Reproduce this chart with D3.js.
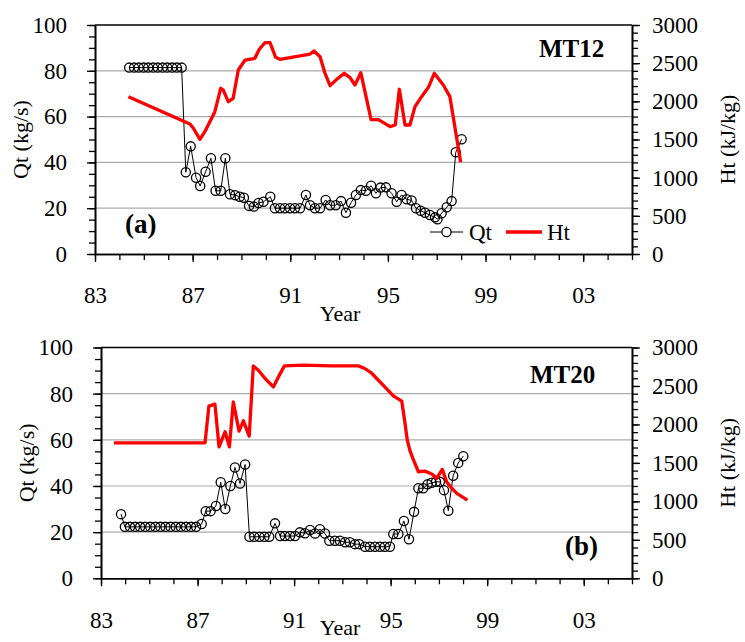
<!DOCTYPE html>
<html>
<head>
	<script src="https://cdn.jsdelivr.net/npm/d3@7"></script>
	<style>
		html, body {
			padding: 0;
			margin: 0;
			background: white;
		}
		svg text {
			font-family: "Liberation Serif", "Times New Roman", serif;
			fill: black;
		}
	</style>
</head>
<body>
<div id="chart"></div>
<script>
	// ---- panel (a) MT12 ----
	var yearsQtA = [1984.40, 1984.60, 1984.79, 1984.99, 1985.18, 1985.38, 1985.57, 1985.77, 1985.96, 1986.16, 1986.35, 1986.55,
		1986.72, 1986.92, 1987.14, 1987.31, 1987.53, 1987.75, 1987.94, 1988.15, 1988.34, 1988.53, 1988.74, 1988.93,
		1989.10, 1989.31, 1989.51, 1989.70, 1989.90, 1990.18, 1990.37, 1990.58, 1990.78, 1990.99, 1991.19, 1991.40,
		1991.64, 1991.81, 1992.01, 1992.22, 1992.45, 1992.63, 1992.86, 1993.08, 1993.28, 1993.49, 1993.69, 1993.89,
		1994.10, 1994.31, 1994.51, 1994.70, 1994.92, 1995.15, 1995.36, 1995.56, 1995.77, 1995.97, 1996.15, 1996.34,
		1996.52, 1996.72, 1996.93, 1997.03, 1997.20, 1997.41, 1997.61, 1997.78, 1998.02];
	var qtA = [81.4, 81.4, 81.4, 81.4, 81.4, 81.4, 81.4, 81.4, 81.4, 81.4, 81.4, 81.4,
		35.7, 47.0, 33.3, 29.7, 35.9, 41.8, 27.6, 27.6, 41.8, 26.1, 25.7, 25.0,
		24.6, 21.0, 20.7, 22.3, 22.8, 25.0, 20.0, 20.0, 20.0, 20.0, 20.0, 20.0,
		25.8, 21.3, 20.0, 20.0, 23.6, 21.3, 21.3, 23.1, 18.0, 22.4, 25.8, 27.9,
		27.6, 29.8, 26.5, 29.0, 29.1, 26.5, 22.8, 25.8, 23.9, 23.4, 20.0, 18.9,
		18.0, 17.0, 16.0, 15.2, 17.8, 20.4, 23.1, 44.4, 50.1];
	var yearsHtA = [1984.37, 1986.89, 1987.03, 1987.30, 1987.50, 1987.91, 1988.15, 1988.25, 1988.46, 1988.66,
		1988.87, 1989.15, 1989.55, 1989.73, 1989.96, 1990.17, 1990.40, 1990.58, 1991.40, 1991.81,
		1991.97, 1992.22, 1992.42, 1992.63, 1992.90, 1993.21, 1993.45, 1993.65, 1993.89, 1994.31,
		1994.61, 1995.09, 1995.30, 1995.47, 1995.70, 1995.90, 1996.11, 1996.38, 1996.66, 1996.90,
		1997.27, 1997.54, 1997.98];
	var htA = [2061, 1703, 1647, 1502, 1602, 1864, 2171, 2150, 1995, 2040,
		2410, 2541, 2564, 2682, 2768, 2768, 2577, 2550, 2594, 2620,
		2659, 2585, 2370, 2205, 2288, 2367, 2310, 2214, 2375, 1760,
		1760, 1668, 1690, 2158, 1690, 1690, 1930, 2061, 2184, 2367,
		2214, 2061, 1201];

	// ---- panel (b) MT20 ----
	var yearsQtB = [1983.83, 1983.99, 1984.20, 1984.41, 1984.62, 1984.83, 1985.04, 1985.25, 1985.46, 1985.67, 1985.88,
		1986.10, 1986.31, 1986.52, 1986.73, 1986.94, 1987.17, 1987.34, 1987.54, 1987.76, 1987.96, 1988.15,
		1988.36, 1988.55, 1988.76, 1988.97, 1989.15, 1989.35, 1989.56, 1989.77, 1989.97, 1990.21, 1990.42,
		1990.62, 1990.83, 1991.04, 1991.24, 1991.45, 1991.66, 1991.87, 1992.07, 1992.28, 1992.46, 1992.69,
		1992.90, 1993.11, 1993.31, 1993.52, 1993.70, 1993.94, 1994.14, 1994.35, 1994.56, 1994.76, 1994.97,
		1995.11, 1995.32, 1995.55, 1995.76, 1995.97, 1996.15, 1996.35, 1996.53, 1996.70, 1996.88, 1997.04,
		1997.21, 1997.39, 1997.59, 1997.80, 1998.01];
	var qtB = [27.8, 22.3, 22.3, 22.3, 22.3, 22.3, 22.3, 22.3, 22.3, 22.3, 22.3,
		22.3, 22.3, 22.3, 22.3, 22.3, 23.5, 29.1, 29.1, 31.3, 41.6, 30.0,
		40.0, 48.0, 41.1, 49.3, 18.0, 18.0, 18.0, 18.0, 18.0, 23.8, 18.3,
		18.3, 18.3, 18.3, 19.9, 19.5, 20.9, 19.4, 21.3, 19.4, 16.3, 16.3,
		16.3, 15.6, 15.6, 14.8, 14.8, 13.7, 13.7, 13.7, 13.7, 13.7, 13.7,
		19.2, 19.2, 24.8, 16.9, 28.8, 39.0, 39.0, 40.7, 41.4, 41.8, 41.8,
		38.2, 29.3, 44.4, 50.0, 52.9];
	var yearsHtB = [1983.54, 1987.31, 1987.47, 1987.72, 1987.89, 1988.14, 1988.32, 1988.48, 1988.72, 1988.90,
		1989.14, 1989.31, 1989.52, 1989.80, 1990.14, 1990.35, 1990.60, 1991.38, 1992.50, 1993.66,
		1993.93, 1994.20, 1994.42, 1994.69, 1995.11, 1995.46, 1995.58, 1995.69, 1995.80, 1995.92,
		1996.15, 1996.42, 1996.70, 1996.91, 1997.14, 1997.32, 1997.52, 1997.74, 1998.18];
	var htB = [1761, 1761, 2238, 2264, 1709, 1904, 1709, 2294, 1913, 2047,
		1848, 2761, 2705, 2597, 2488, 2618, 2761, 2770, 2761, 2761,
		2727, 2670, 2597, 2510, 2372, 2303, 2050, 1796, 1660, 1558,
		1385, 1393, 1355, 1299, 1416, 1255, 1175, 1104, 1017];

	var qtTicks = [0, 20, 40, 60, 80, 100];
	var htTicks = [0, 500, 1000, 1500, 2000, 2500, 3000];
	var yearTicks = [1983, 1987, 1991, 1995, 1999, 2003];
	var legendNames = ["Qt", "Ht"];

	var serif = "'Liberation Serif', 'Times New Roman', serif";

	var svg = d3.select("#chart").append("svg")
		.attr("width", 745)
		.attr("height", 642);

	function yearLabel(y) { return d3.format("02d")(y % 100); }

	function drawPanel(p) {
		var x = d3.scaleLinear().domain([1983, 2005]).range([p.left, p.right]);
		var yQ = d3.scaleLinear().domain([0, 100]).range([p.bottom, p.top]);
		var yH = d3.scaleLinear().domain([0, 3000]).range([p.bottom, p.top]);
		var g = svg.append("g");

		// gridlines
		g.selectAll(".grid").data([20, 40, 60, 80]).enter().append("line")
			.attr("x1", p.left).attr("x2", p.right)
			.attr("y1", function(d) { return yQ(d); })
			.attr("y2", function(d) { return yQ(d); })
			.style("stroke", "#ababab").style("stroke-width", 1.2);

		// legend box hides the grid under it
		if (p.legend) {
			g.append("rect").attr("x", 418).attr("y", 210).attr("width", 159).attr("height", 42)
				.style("fill", "white");
		}

		// top border
		g.append("line").attr("x1", p.left).attr("x2", p.right)
			.attr("y1", p.top).attr("y2", p.top)
			.style("stroke", "black").style("stroke-width", 1.6);

		// minor ticks
		g.append("g").attr("transform", "translate(" + p.left + ",0)")
			.call(d3.axisLeft(yQ).tickValues(d3.range(0, 101, 5)).tickSize(6).tickSizeOuter(0).tickFormat(""));
		g.append("g").attr("transform", "translate(" + p.right + ",0)")
			.call(d3.axisRight(yH).tickValues(d3.range(0, 3001, 100)).tickSize(6).tickSizeOuter(0).tickFormat(""));
		g.append("g").attr("transform", "translate(0," + p.bottom + ")")
			.call(d3.axisBottom(x).tickValues(d3.range(1983, 2006, 1)).tickSize(6).tickSizeOuter(0).tickFormat(""));

		// major ticks + labels
		var aL = g.append("g").attr("transform", "translate(" + p.left + ",0)")
			.call(d3.axisLeft(yQ).tickValues(qtTicks).tickSize(8).tickPadding(20).tickSizeOuter(0).tickFormat(d3.format("d")));
		var aR = g.append("g").attr("transform", "translate(" + p.right + ",0)")
			.call(d3.axisRight(yH).tickValues(htTicks).tickSize(8).tickPadding(12).tickSizeOuter(0).tickFormat(d3.format("d")));
		var aB = g.append("g").attr("transform", "translate(0," + p.bottom + ")")
			.call(d3.axisBottom(x).tickValues(yearTicks).tickSize(8).tickPadding(25).tickSizeOuter(0).tickFormat(yearLabel));

		g.selectAll(".domain").style("stroke", "black").style("stroke-width", 1.6);
		g.selectAll(".tick line").style("stroke", "black").style("stroke-width", 1.3);
		[aL, aR, aB].forEach(function(a) {
			a.attr("font-family", null);
			a.selectAll("text").style("font-family", serif).style("font-size", "23px").style("fill", "black");
		});

		// axis titles
		var midY = (p.top + p.bottom) / 2;
		g.append("text").attr("transform", "translate(" + (p.left - 67) + "," + midY + ") rotate(-90)")
			.attr("text-anchor", "middle").style("font-family", serif).style("font-size", "22px").text("Qt (kg/s)");
		g.append("text").attr("transform", "translate(" + 735 + "," + midY + ") rotate(-90)")
			.attr("text-anchor", "middle").style("font-family", serif).style("font-size", "22px").text("Ht (kJ/kg)");
		g.append("text").attr("x", 340).attr("y", p.yearY)
			.attr("text-anchor", "middle").style("font-family", serif).style("font-size", "22px").text("Year");

		// Qt series
		var qtData = p.yq.map(function(yr, i) { return [yr, p.qt[i]]; });
		var htData = p.yh.map(function(yr, i) { return [yr, p.ht[i]]; });

		g.append("path").datum(qtData)
			.attr("d", d3.line().x(function(d) { return x(d[0]); }).y(function(d) { return yQ(d[1]); }))
			.style("fill", "none").style("stroke", "black").style("stroke-width", 1);
		g.selectAll(".qt").data(qtData).enter().append("circle")
			.attr("cx", function(d) { return x(d[0]); })
			.attr("cy", function(d) { return yQ(d[1]); })
			.attr("r", 4.6)
			.style("fill", "none").style("stroke", "black").style("stroke-width", 1.3);

		// Ht series
		g.append("path").datum(htData)
			.attr("d", d3.line().x(function(d) { return x(d[0]); }).y(function(d) { return yH(d[1]); }))
			.style("fill", "none").style("stroke", "#ff0000").style("stroke-width", 3.3)
			.style("stroke-linejoin", "round");

		// labels
		g.append("text").attr("x", p.nameX).attr("y", p.nameY).style("font-family", serif)
			.style("font-size", "25px").style("font-weight", "bold").text(p.name);
		g.append("text").attr("x", p.tagX).attr("y", p.tagY).style("font-family", serif)
			.style("font-size", "27px").style("font-weight", "bold").text(p.tag);

		if (p.legend) {
			var ly = 232;
			g.append("line").attr("x1", 430).attr("x2", 463).attr("y1", ly).attr("y2", ly)
				.style("stroke", "black").style("stroke-width", 1);
			g.append("circle").attr("cx", 446.5).attr("cy", ly).attr("r", 4.6)
				.style("fill", "white").style("stroke", "black").style("stroke-width", 1.3);
			g.append("text").attr("x", 469).attr("y", ly + 8).style("font-family", serif)
				.style("font-size", "23px").text(legendNames[0]);
			g.append("line").attr("x1", 506).attr("x2", 542).attr("y1", ly).attr("y2", ly)
				.style("stroke", "#ff0000").style("stroke-width", 3.3);
			g.append("text").attr("x", 547).attr("y", ly + 8).style("font-family", serif)
				.style("font-size", "23px").text(legendNames[1]);
		}
	}

	drawPanel({left: 95, right: 632, top: 25, bottom: 254, yearY: 321,
		yq: yearsQtA, qt: qtA, yh: yearsHtA, ht: htA,
		name: "MT12", nameX: 539, nameY: 57, tag: "(a)", tagX: 125, tagY: 233, legend: true});
	drawPanel({left: 101, right: 632, top: 347.5, bottom: 578.3, yearY: 635,
		yq: yearsQtB, qt: qtB, yh: yearsHtB, ht: htB,
		name: "MT20", nameX: 530, nameY: 383, tag: "(b)", tagX: 565, tagY: 555, legend: false});
</script>
</body>
</html>
